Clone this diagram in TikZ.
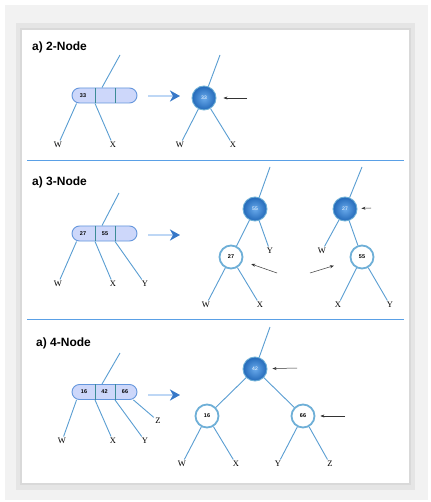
\documentclass[tikz,border=0pt]{standalone}
\usepackage{fontspec}
\setmainfont{Liberation Serif}
\setsansfont{Liberation Sans}
\usetikzlibrary{arrows.meta, calc, shadings}

\definecolor{tline}{RGB}{90,158,210}
\definecolor{capfill}{RGB}{205,215,250}
\definecolor{capedge}{RGB}{100,150,220}
\definecolor{celldiv}{RGB}{60,140,150}
\definecolor{ballin}{RGB}{105,170,235}
\definecolor{ballout}{RGB}{35,105,185}
\definecolor{ring}{RGB}{110,175,215}
\definecolor{shaft}{RGB}{190,215,245}
\definecolor{tip}{RGB}{55,120,200}
\definecolor{sepline}{RGB}{90,160,230}

\begin{document}
\begin{tikzpicture}[
    x=1pt, y=-1pt,
    title/.style={font=\sffamily\bfseries\fontsize{12}{14}\selectfont,
                  anchor=west, inner sep=0pt},
    leaf/.style={font=\fontsize{8.5}{10}\selectfont, inner sep=1.5pt},
    keynode/.style={rectangle, rounded corners=7.5pt, draw=capedge, fill=capfill,
                    line width=0.9pt, minimum width=65pt, minimum height=15pt,
                    inner sep=0pt},
    num/.style={font=\sffamily\bfseries\fontsize{5.5}{6}\selectfont, inner sep=0pt},
    dark/.style={circle, minimum size=24pt, inner sep=0pt, shading=radial,
                 inner color=ballin, outer color=ballout, draw=ring, line width=0.9pt,
                 font=\sffamily\fontsize{5}{6}\selectfont, text=white},
    light/.style={circle, minimum size=23pt, inner sep=0pt, fill=white,
                  draw=ring, line width=1.8pt,
                  font=\sffamily\bfseries\fontsize{5.5}{6}\selectfont},
    branch/.style={draw=tline, line width=0.9pt},
    cell/.style={draw=celldiv, line width=0.8pt},
    conv/.style={line width=2.5pt, draw=shaft,
                 -{Stealth[length=10pt, width=11pt, inset=3pt, color=tip]}},
    ptr/.style={-{Stealth[length=4pt, width=3pt]}, line width=0.5pt, black!80},
    divider/.style={draw=sepline, line width=1pt},
]
\useasboundingbox (0,0) rectangle (430,502);

% frame
\fill[gray!10] (5,5) rectangle (428,500);
\fill[gray!20] (16,23) rectangle (415,490);
\fill[gray!30] (20,28) rectangle (411,485);
\fill[white] (22,30) rectangle (409,483);

%% 2-node
\node[title] (t1) at (32,47) {a) 2-Node};
\coordinate (k1up) at (120,55);
\node[leaf] (k1w) at (58,145) {W};
\node[leaf] (k1x) at (113,145) {X};
\node[keynode] (k1) at (104.5,95.5) {};
\draw[cell] ([xshift=-9.5pt]k1.north) -- ([xshift=-9.5pt]k1.south);
\draw[cell] ([xshift=10.5pt]k1.north) -- ([xshift=10.5pt]k1.south);
\node[num] (k1a) at (83,95.5) {33};
\draw[branch] (k1up) -- ([xshift=-2.5pt]k1.north);
\draw[branch] ([xshift=5pt]k1.south west) -- (k1w);
\draw[branch] ([xshift=-9.5pt]k1.south) -- (k1x);

\coordinate (a1) at (148,96);
\coordinate (a1e) at (180,96);
\draw[conv] (a1) -- (a1e);

\node[dark] (r1) at (204,98) {33};
\coordinate (r1up) at (220,55);
\node[leaf] (r1w) at (180,145) {W};
\node[leaf] (r1x) at (233,145) {X};
\foreach \a/\b in {r1up/r1, r1/r1w, r1/r1x}
    \draw[branch] (\a) -- (\b);
\coordinate (p1) at (247,98);
\draw[ptr, shorten >=7pt] (p1) -- (r1);

\draw[divider] (27,161) -- (404,161);

%% 3-node
\node[title] (t2) at (32,182) {a) 3-Node};
\coordinate (k2up) at (119,193);
\node[leaf] (k2w) at (58,284) {W};
\node[leaf] (k2x) at (113,284) {X};
\node[leaf] (k2y) at (145,284) {Y};
\node[keynode] (k2) at (104.5,233.5) {};
\draw[cell] ([xshift=-9.5pt]k2.north) -- ([xshift=-9.5pt]k2.south);
\draw[cell] ([xshift=10.5pt]k2.north) -- ([xshift=10.5pt]k2.south);
\node[num] (k2a) at (83,233.5) {27};
\node[num] (k2b) at (105,233.5) {55};
\draw[branch] (k2up) -- ([xshift=-2.5pt]k2.north);
\draw[branch] ([xshift=5pt]k2.south west) -- (k2w);
\draw[branch] ([xshift=-9.5pt]k2.south) -- (k2x);
\draw[branch] ([xshift=10.5pt]k2.south) -- (k2y);

\coordinate (a2) at (148,235);
\coordinate (a2e) at (180,235);
\draw[conv] (a2) -- (a2e);

\node[dark]  (ra) at (255,209) {55};
\coordinate (raup) at (270,167);
\node[light] (la) at (231,257) {27};
\node[leaf]  (ya) at (270,251) {Y};
\node[leaf]  (wa) at (206,305) {W};
\node[leaf]  (xa) at (260,305) {X};
\foreach \a/\b in {raup/ra, ra/la, ra/ya, la/wa, la/xa}
    \draw[branch] (\a) -- (\b);
\coordinate (pa) at (277,273);
\draw[ptr, shorten >=9pt] (pa) -- (la);

\node[dark]  (rb) at (345,209) {27};
\coordinate (rbup) at (362,167);
\node[leaf]  (wb) at (322,251) {W};
\node[light] (lb) at (362,257) {55};
\node[leaf]  (xb) at (338,305) {X};
\node[leaf]  (yb) at (390,305) {Y};
\foreach \a/\b in {rbup/rb, rb/wb, rb/lb, lb/xb, lb/yb}
    \draw[branch] (\a) -- (\b);
\coordinate (pb0) at (371,208);
\draw[ptr, shorten >=4pt] (pb0) -- (rb);
\coordinate (pb) at (310,273);
\draw[ptr, shorten >=17pt] (pb) -- (lb);

\draw[divider] (27,319) -- (404,319);

%% 4-node
\node[title] (t3) at (36,343) {a) 4-Node};
\coordinate (k3up) at (120,353);
\node[leaf] (k3w) at (62,441) {W};
\node[leaf] (k3x) at (113,441) {X};
\node[leaf] (k3y) at (145,441) {Y};
\node[leaf] (k3z) at (158,421) {Z};
\node[keynode] (k3) at (104.5,392) {};
\draw[cell] ([xshift=-9.5pt]k3.north) -- ([xshift=-9.5pt]k3.south);
\draw[cell] ([xshift=10.5pt]k3.north) -- ([xshift=10.5pt]k3.south);
\node[num] (k3a) at (84,392) {16};
\node[num] (k3b) at (104.5,392) {42};
\node[num] (k3c) at (125,392) {66};
\draw[branch] (k3up) -- ([xshift=-2.5pt]k3.north);
\draw[branch] ([xshift=5pt]k3.south west) -- (k3w);
\draw[branch] ([xshift=-9.5pt]k3.south) -- (k3x);
\draw[branch] ([xshift=10.5pt]k3.south) -- (k3y);
\draw[branch] ([xshift=-4pt]k3.south east) -- (k3z);

\coordinate (a3) at (148,395);
\coordinate (a3e) at (180,395);
\draw[conv] (a3) -- (a3e);

\node[dark]  (r3) at (255,369) {42};
\coordinate (r3up) at (270,327);
\node[light] (c16) at (207,416) {16};
\node[light] (c66) at (303,416) {66};
\node[leaf]  (w3) at (182,464) {W};
\node[leaf]  (x3) at (236,464) {X};
\node[leaf]  (y3) at (278,464) {Y};
\node[leaf]  (z3) at (330,464) {Z};
\foreach \a/\b in {r3up/r3, r3/c16, r3/c66, c16/w3, c16/x3, c66/y3, c66/z3}
    \draw[branch] (\a) -- (\b);
\coordinate (p3) at (297,368);
\draw[ptr, shorten >=5pt] (p3) -- (r3);
\coordinate (p4) at (345,416);
\draw[ptr, shorten >=5pt] (p4) -- (c66);
\end{tikzpicture}
\end{document}
